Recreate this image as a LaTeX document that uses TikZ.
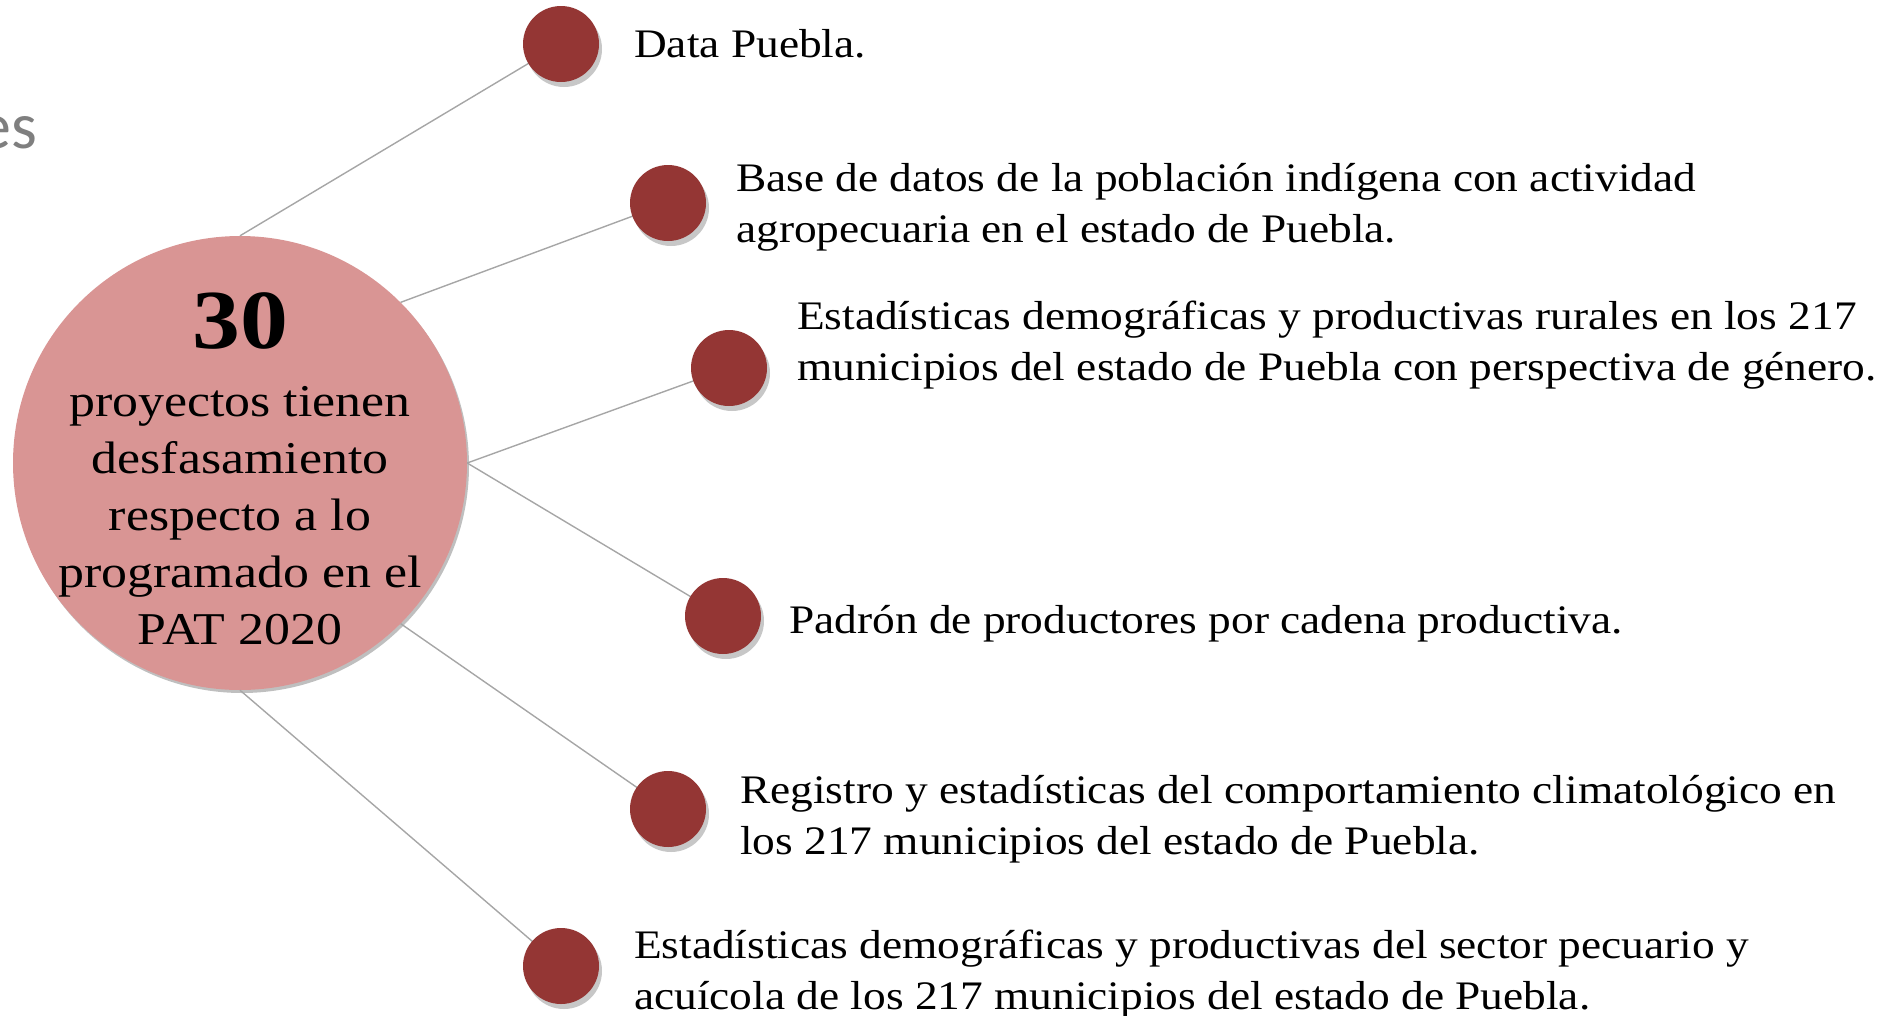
\documentclass[tikz,border=0pt]{standalone}
\usepackage{fontspec}
\setmainfont{Liberation Serif}[FakeStretch=1.12]
\newfontfamily\centerfont{Liberation Serif}[FakeStretch=1.14]
\newfontfamily\esfont{Carlito}
\usetikzlibrary{shadows}
\definecolor{bigfill}{HTML}{D99594}
\definecolor{dotfill}{HTML}{943634}
\definecolor{linkgray}{HTML}{A6A6A6}
\definecolor{esgray}{HTML}{7F7F7F}
\begin{document}
\begin{tikzpicture}[x=1pt,y=-1pt,
  bigcirc/.style={circle,fill=bigfill,minimum size=454pt,inner sep=0pt,
     drop shadow={shadow xshift=2pt,shadow yshift=-3pt,opacity=0.25,fill=black}},
  dot/.style={circle,fill=dotfill,minimum size=76pt,inner sep=0pt,
     drop shadow={shadow xshift=3pt,shadow yshift=-5pt,opacity=0.22,fill=black}},
  link/.style={draw=linkgray,line width=1.4pt},
  itemtxt/.style={anchor=west,align=left,inner sep=0pt,font=\fontsize{40.5}{51}\selectfont},
  ]
\useasboundingbox (0,0) rectangle (1898,1015);
\node[anchor=base east,inner sep=0pt,text=esgray,font=\esfont\fontsize{66}{70}\selectfont] (es) at (37,148) {es};

\node[bigcirc] (big) at (240,463) {};
\coordinate (o1) at (big.north);
\coordinate (o2) at (big.north east);
\coordinate (o3) at (big.east);
\coordinate (o5) at (big.south east);
\coordinate (o6) at (big.south);

\coordinate (c1) at (561,44);
\coordinate (c2) at (668,203);
\coordinate (c3) at (729,368);
\coordinate (c4) at (723,616);
\coordinate (c5) at (668,809);
\coordinate (c6) at (561,966);

\draw[link] (o1) -- (c1);
\draw[link] (o2) -- (c2);
\draw[link] (o3) -- (c3);
\draw[link] (o3) -- (c4);
\draw[link] (o5) -- (c5);
\draw[link] (o6) -- (c6);

\node[dot] (d1) at (c1) {};
\node[dot] (d2) at (c2) {};
\node[dot] (d3) at (c3) {};
\node[dot] (d4) at (c4) {};
\node[dot] (d5) at (c5) {};
\node[dot] (d6) at (c6) {};

\node[inner sep=0pt,font=\centerfont\fontsize{84}{90}\selectfont\bfseries] (num) at (240,321) {30};
\node[inner sep=0pt,align=center,font=\centerfont\fontsize{45.5}{57}\selectfont] (desc) at (240,516)
  {proyectos tienen\\desfasamiento\\respecto a lo\\programado en el\\PAT 2020};

\node[itemtxt] (t1) at (634,44) {Data Puebla.};
\node[itemtxt] (t2) at (736,207) {Base de datos de la población indígena con actividad\\agropecuaria en el estado de Puebla.};
\node[itemtxt] (t3) at (797,345) {Estadísticas demográficas y productivas rurales en los 217\\municipios del estado de Puebla con perspectiva de género.};
\node[itemtxt] (t4) at (789,624) {Padrón de productores por cadena productiva.};
\node[itemtxt] (t5) at (740,819) {Registro y estadísticas del comportamiento climatológico en\\los 217 municipios del estado de Puebla.};
\node[itemtxt] (t6) at (634,974) {Estadísticas demográficas y productivas del sector pecuario y\\acuícola de los 217 municipios del estado de Puebla.};
\end{tikzpicture}
\end{document}
